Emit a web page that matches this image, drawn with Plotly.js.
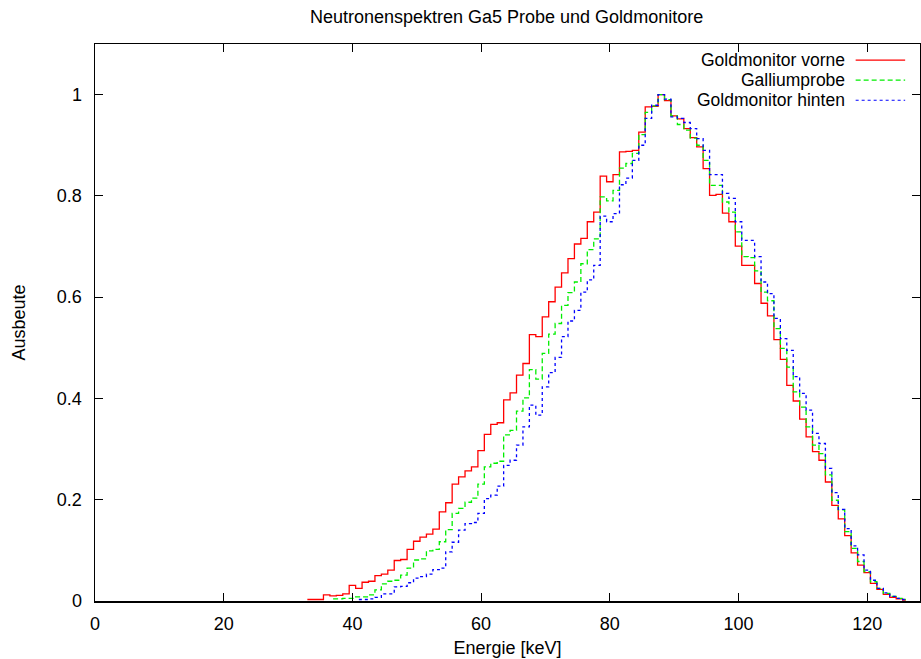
<!DOCTYPE html>
<html>
<head>
<meta charset="utf-8">
<script src="https://cdn.plot.ly/plotly-3.0.1.min.js"></script>
<style>html,body{margin:0;padding:0;background:#fff}#chart{width:921px;height:659px}</style>
</head>
<body>
<div id="chart"></div>
<script>
// Energie (keV), bin centres
const energie = [33,34,35,36,37,38,39,40,41,42,43,44,45,46,47,48,49,50,51,52,53,54,55,56,57,58,59,60,61,62,63,64,65,66,67,68,69,70,71,72,73,74,75,76,77,78,79,80,81,82,83,84,85,86,87,88,89,90,91,92,93,94,95,96,97,98,99,100,101,102,103,104,105,106,107,108,109,110,111,112,113,114,115,116,117,118,119,120,121,122,123,124,125,126];

const goldVorne = [0.003,0.003,0.003,0.012,0.010,0.011,0.014,0.031,0.025,0.037,0.039,0.050,0.053,0.061,0.080,0.082,0.102,0.118,0.126,0.132,0.142,0.176,0.194,0.231,0.245,0.257,0.265,0.297,0.329,0.349,0.352,0.397,0.411,0.446,0.469,0.526,0.522,0.561,0.591,0.620,0.648,0.676,0.705,0.716,0.749,0.768,0.839,0.828,0.842,0.887,0.888,0.890,0.926,0.976,0.977,1.000,0.988,0.958,0.952,0.933,0.915,0.897,0.854,0.801,0.803,0.766,0.749,0.701,0.663,0.663,0.627,0.588,0.563,0.516,0.477,0.426,0.395,0.359,0.324,0.295,0.278,0.235,0.189,0.162,0.129,0.095,0.071,0.056,0.035,0.023,0.013,0.007,0.004,0.002];

const galliumprobe = [null,null,null,null,0.004,0.004,0.005,0.005,0.008,0.008,0.012,0.022,0.034,0.039,0.041,0.051,0.065,0.081,0.083,0.099,0.102,0.117,0.141,0.173,0.183,0.195,0.203,0.231,0.265,0.272,0.276,0.328,0.337,0.375,0.401,0.457,0.438,0.489,0.527,0.548,0.584,0.609,0.630,0.666,0.694,0.715,0.798,0.790,0.811,0.855,0.864,0.884,0.921,0.965,0.978,1.000,0.990,0.958,0.941,0.930,0.914,0.900,0.870,0.821,0.821,0.788,0.768,0.729,0.680,0.678,0.652,0.610,0.593,0.538,0.499,0.462,0.413,0.383,0.344,0.308,0.291,0.249,0.199,0.180,0.137,0.104,0.078,0.058,0.038,0.025,0.015,0.009,0.005,0.003];

const goldHinten = [null,null,null,null,null,null,null,null,0.003,0.003,0.004,0.007,0.014,0.014,0.028,0.029,0.036,0.045,0.048,0.053,0.062,0.065,0.097,0.116,0.140,0.153,0.155,0.173,0.202,0.209,0.227,0.268,0.278,0.308,0.344,0.387,0.367,0.423,0.451,0.481,0.522,0.553,0.574,0.610,0.634,0.663,0.760,0.749,0.765,0.822,0.835,0.870,0.900,0.953,0.979,1.000,0.991,0.956,0.953,0.945,0.933,0.913,0.890,0.842,0.842,0.805,0.795,0.749,0.712,0.712,0.680,0.630,0.607,0.558,0.518,0.495,0.443,0.410,0.377,0.331,0.311,0.262,0.214,0.181,0.143,0.109,0.091,0.061,0.041,0.025,0.016,0.009,0.005,0.003];

const seriesNames = ["Goldmonitor vorne", "Galliumprobe", "Goldmonitor hinten"];
const seriesColors = ["#ff0000", "#00ee00", "#0000ff"];
const seriesDash = ["solid", "5px,3px", "3px,3px"];
const seriesData = [goldVorne, galliumprobe, goldHinten];

const xTicks = [0,20,40,60,80,100,120];
const yTicks = [0,0.2,0.4,0.6,0.8,1];

const FONT = "Liberation Sans, Arial, sans-serif";
const FS = 18;

const traces = seriesData.map((vals, i) => ({
  x: energie, y: vals, type: "scatter", mode: "lines",
  name: seriesNames[i], showlegend: false,
  line: {shape: "hvh", color: seriesColors[i], width: 1.3, dash: seriesDash[i]}
}));

// gnuplot-style key: text right-aligned, sample line to the right
const annotations = [];
const shapes = [];
const keyY = [0.971, 0.935, 0.899];
seriesNames.forEach((n, i) => {
  annotations.push({xref: "paper", yref: "paper", x: 0.910, y: keyY[i], text: n,
    showarrow: false, xanchor: "right", yanchor: "middle", borderpad: 0,
    font: {family: FONT, size: 17.5, color: "#000"}});
  shapes.push({type: "line", xref: "paper", yref: "paper",
    x0: 0.922, x1: 0.982, y0: keyY[i], y1: keyY[i],
    line: {color: seriesColors[i], width: 1.2, dash: seriesDash[i]}});
});

const layout = {
  width: 921, height: 659,
  margin: {l: 95, r: 1, t: 44, b: 58},
  paper_bgcolor: "#fff", plot_bgcolor: "#fff",
  font: {family: FONT, size: FS, color: "#000"},
  title: {text: "Neutronenspektren Ga5 Probe und Goldmonitore", x: 0.550, xanchor: "center", y: 0.974, yanchor: "middle",
          font: {family: FONT, size: FS, color: "#000"}},
  xaxis: {range: [0, 128.2], tickvals: xTicks, ticks: "inside", ticklen: 8, tickwidth: 1, tickcolor: "#000",
          showline: true, linecolor: "#000", linewidth: 1.5, mirror: "ticks", showgrid: false, zeroline: false,
          ticklabelstandoff: 6, tickfont: {family: FONT, size: FS},
          title: {text: "Energie [keV]", standoff: 8, font: {family: FONT, size: FS}}},
  yaxis: {range: [0, 1.1], tickvals: yTicks, ticks: "inside", ticklen: 8, tickwidth: 1, tickcolor: "#000",
          showline: true, linecolor: "#000", linewidth: 1.5, mirror: "ticks", showgrid: false, zeroline: false,
          ticklabelstandoff: 8, tickfont: {family: FONT, size: FS},
          title: {text: "Ausbeute", standoff: 26, font: {family: FONT, size: FS}}},
  annotations: annotations,
  shapes: shapes
};

Plotly.newPlot("chart", traces, layout, {displayModeBar: false, staticPlot: true});
</script>
</body>
</html>
